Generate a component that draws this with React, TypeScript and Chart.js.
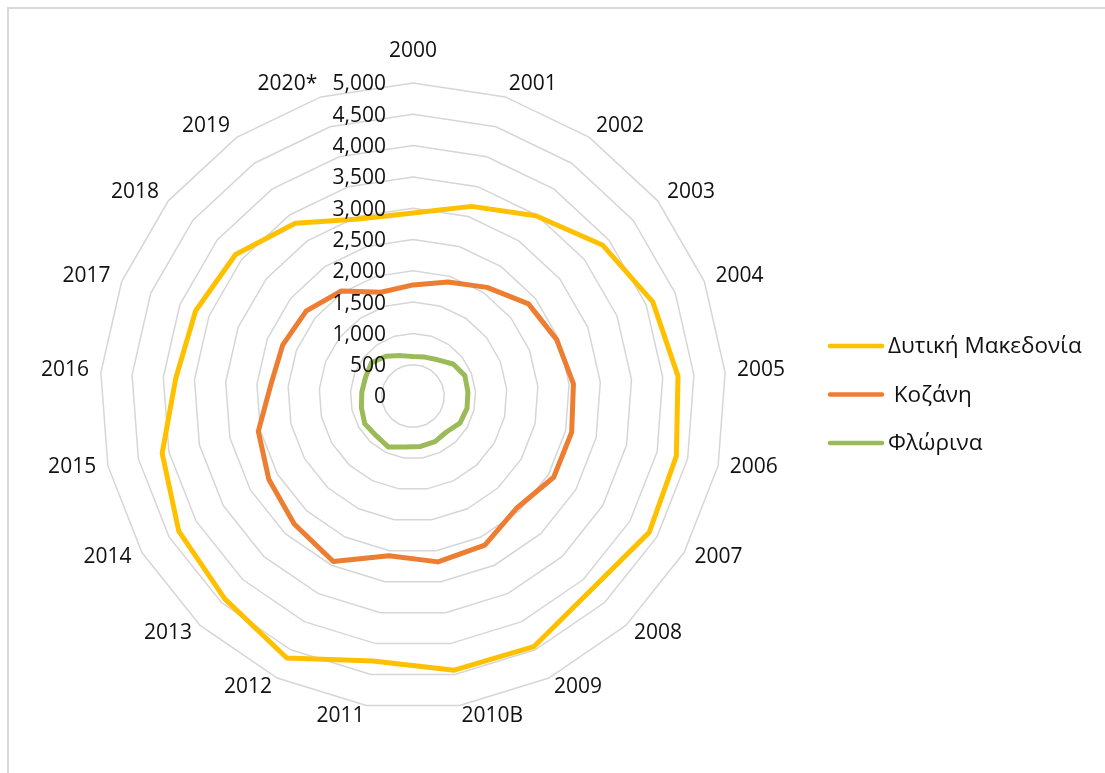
import React, { useEffect, useRef } from 'react';
import { Chart, registerables } from 'chart.js';

Chart.register(...registerables);

const categories = [
  '2000', '2001', '2002', '2003', '2004', '2005', '2006', '2007', '2008', '2009', '2010B',
  '2011', '2012', '2013', '2014', '2015', '2016', '2017', '2018', '2019', '2020*',
];

const seriesNames = ['Δυτική Μακεδονία', ' Κοζάνη', 'Φλώρινα'];

const dytikiMakedonia = [
  2925, 3170, 3485, 3870, 4115, 4245, 4315, 4357, 4205, 4445, 4430,
  4280, 4645, 4420, 4320, 4110, 3800, 3730, 3625, 3340, 2960,
];
const kozani = [
  1775, 1905, 2100, 2360, 2465, 2570, 2600, 2595, 2440, 2645, 2680,
  2580, 2935, 2790, 2660, 2535, 2280, 2235, 2180, 2030, 1735,
];
const florina = [
  630, 650, 700, 820, 890, 880, 885, 865, 785, 810, 815,
  825, 905, 865, 890, 845, 820, 815, 850, 770, 675,
];

const tickValues = [0, 500, 1000, 1500, 2000, 2500, 3000, 3500, 4000, 4500, 5000];
const tickLabels = ['0', '500', '1,000', '1,500', '2,000', '2,500', '3,000', '3,500', '4,000', '4,500', '5,000'];

const seriesColors = ['#FFC000', '#ED7D31', '#9BBB59'];

const FONT = '21px "Open Sans"';
const LEGEND_FONT = '22.5px "Open Sans"';
const TEXT_COLOR = '#111111';

const textPlugin = {
  id: 'excelText',
  afterDatasetsDraw(chart: any) {
    const scale = chart.scales.r;
    const ctx = chart.ctx as CanvasRenderingContext2D;
    ctx.save();
    ctx.font = FONT;
    ctx.fillStyle = TEXT_COLOR;

    // value tick labels along the first axis, right-aligned
    ctx.textAlign = 'right';
    ctx.textBaseline = 'middle';
    tickValues.forEach((v, i) => {
      const d = scale.getDistanceFromCenterForValue(v);
      ctx.fillText(tickLabels[i], scale.xCenter - 27, scale.yCenter - d + 1.5);
    });

    // category labels
    const R = scale.getDistanceFromCenterForValue(scale.max);
    (chart.data.labels as string[]).forEach((lab, i) => {
      const a = scale.getIndexAngle(i);
      const s = Math.sin(a);
      if (i === 0) {
        ctx.textAlign = 'center';
        ctx.fillText(lab, scale.xCenter, scale.yCenter - R - 32);
        return;
      }
      const p = scale.getPointPosition(i, R + 12);
      ctx.textAlign = s > 0.01 ? 'left' : s < -0.01 ? 'right' : 'center';
      ctx.fillText(lab, p.x, p.y - 1.5);
    });

    // legend
    const legendY = [337, 385.5, 434];
    ctx.font = LEGEND_FONT;
    chart.data.datasets.forEach((ds: any, i: number) => {
      const y = legendY[i];
      ctx.beginPath();
      ctx.strokeStyle = ds.borderColor;
      ctx.lineWidth = 4.5;
      ctx.lineCap = 'round';
      ctx.moveTo(821, y);
      ctx.lineTo(873, y);
      ctx.stroke();
      ctx.textAlign = 'left';
      ctx.fillStyle = TEXT_COLOR;
      ctx.fillText(ds.label, 879, y + 1);
    });
    ctx.restore();
  },
};

export default function App() {
  const ref = useRef<HTMLCanvasElement>(null);
  useEffect(() => {
    let chart: Chart | null = null;
    let cancelled = false;
    const build = () => {
      if (cancelled || !ref.current) return;
      chart = new Chart(ref.current, {
        type: 'radar',
        data: {
          labels: categories,
          datasets: [dytikiMakedonia, kozani, florina].map((d, i) => ({
            label: seriesNames[i],
            data: d,
            borderColor: seriesColors[i],
            backgroundColor: seriesColors[i],
            borderWidth: 5,
            fill: false,
            pointRadius: 0,
            pointHoverRadius: 0,
            tension: 0,
            borderJoinStyle: 'round',
            borderCapStyle: 'round',
          })),
        },
        options: {
          responsive: false,
          animation: false,
          layout: { padding: { left: 91, right: 379, top: 74, bottom: 64 } },
          plugins: {
            legend: { display: false },
            tooltip: { enabled: false },
          },
          scales: {
            r: {
              min: 0,
              max: 5000,
              ticks: { display: false, stepSize: 500 },
              pointLabels: { display: false },
              grid: { color: '#d6d6d6', lineWidth: 1.5 },
              angleLines: { display: false },
            },
          },
        },
        plugins: [textPlugin],
      } as any);
    };
    const fonts = (document as any).fonts;
    if (fonts && fonts.load) {
      Promise.all([fonts.load(FONT), fonts.load(LEGEND_FONT)]).then(build, build);
    } else {
      build();
    }
    return () => {
      cancelled = true;
      if (chart) chart.destroy();
    };
  }, []);

  return (
    <div
      style={{
        position: 'fixed',
        left: 7,
        top: 7,
        width: 1300,
        height: 1000,
        borderLeft: '2px solid #d9d9d9',
        borderTop: '2px solid #d9d9d9',
        background: '#fff',
      }}
    >
      <canvas ref={ref} width={1096} height={764} style={{ display: 'block' }} />
    </div>
  );
}
